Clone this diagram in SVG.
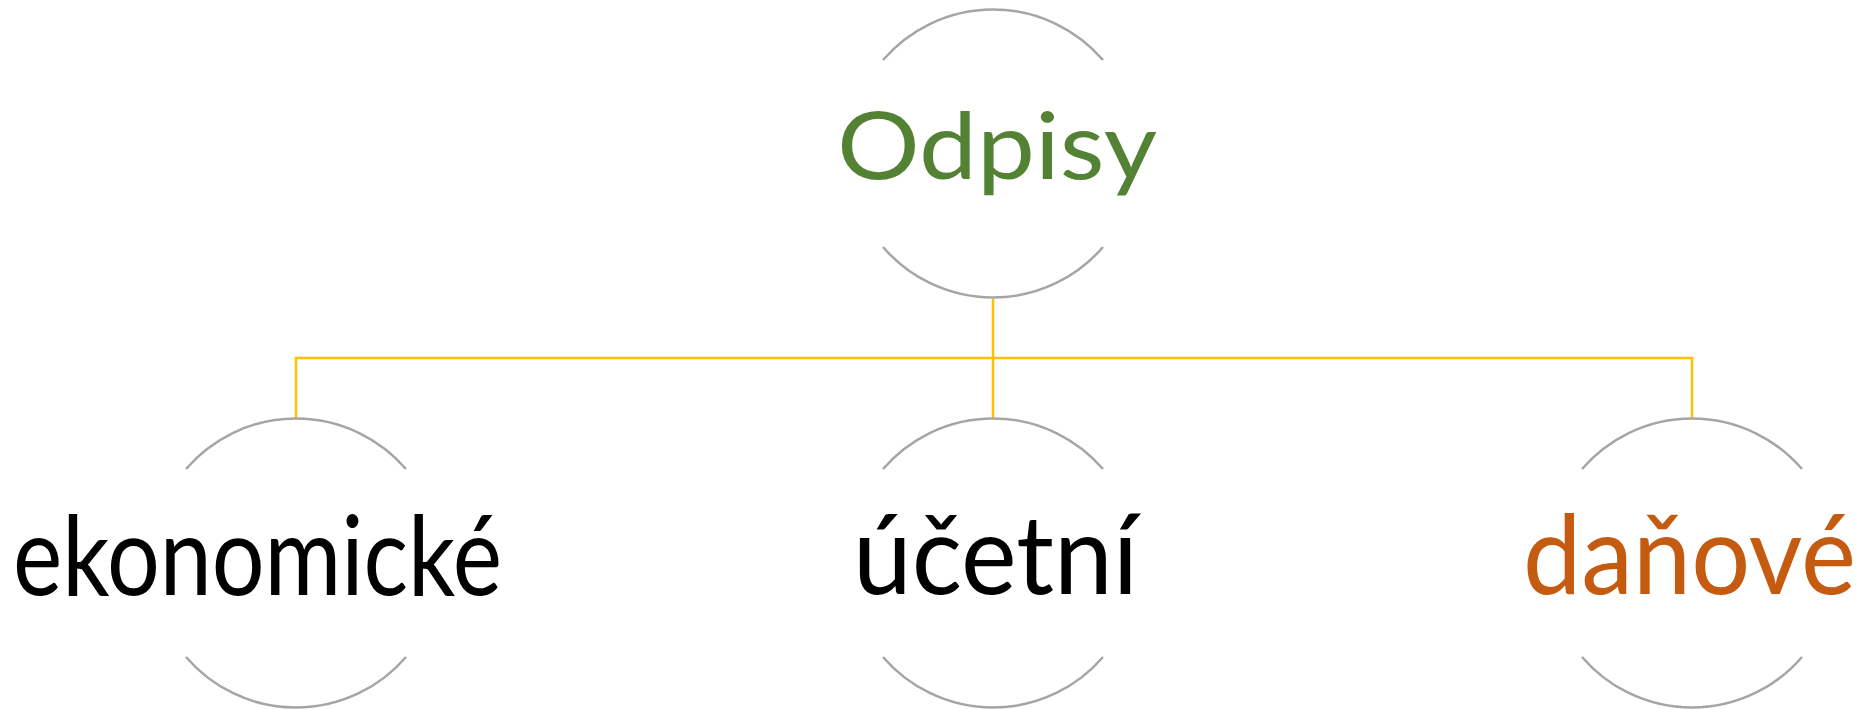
<svg xmlns="http://www.w3.org/2000/svg" width="1870" height="709" viewBox="0 0 1870 709">
<style>
.arc{fill:none;stroke:#A5A5A5;stroke-width:2.5}
.conn{fill:none;stroke:#FFC000;stroke-width:2.5}
.t{font-family:Lato,"Open Sans","Liberation Sans",sans-serif;font-weight:normal}
</style>
<rect width="1870" height="709" fill="#ffffff"/>
<g id="connectors">
<path class="conn" d="M993,299 V358 M296,418 V358 H1692 V418 M993,358 V418"/>
</g>
<g id="node-odpisy">
<path class="arc" d="M883,60 A145,145 0 0 1 1103,60"/>
<path class="arc" d="M883,247 A145,145 0 0 0 1103,247"/>
<text class="t" x="837" y="179" font-size="93" fill="#548235" textLength="320" lengthAdjust="spacingAndGlyphs">Odpisy</text>
</g>
<g id="node-ekonomicke">
<path class="arc" d="M186,469 A145,145 0 0 1 406,469"/>
<path class="arc" d="M186,657 A145,145 0 0 0 406,657"/>
<text class="t" x="13" y="595" font-size="110" fill="#000000" textLength="489" lengthAdjust="spacingAndGlyphs">ekonomické</text>
</g>
<g id="node-ucetni">
<path class="arc" d="M883,469 A145,145 0 0 1 1103,469"/>
<path class="arc" d="M883,657 A145,145 0 0 0 1103,657"/>
<text class="t" x="853" y="594" font-size="110" fill="#000000" textLength="285" lengthAdjust="spacingAndGlyphs">účetní</text>
</g>
<g id="node-danove">
<path class="arc" d="M1582,469 A145,145 0 0 1 1802,469"/>
<path class="arc" d="M1582,657 A145,145 0 0 0 1802,657"/>
<text class="t" x="1523" y="594" font-size="110" fill="#C55A11" textLength="333" lengthAdjust="spacingAndGlyphs">daňové</text>
</g>
</svg>
